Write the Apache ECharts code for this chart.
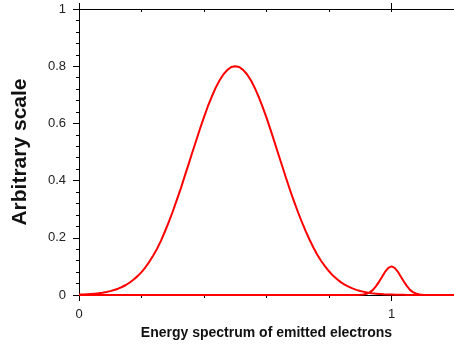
<!DOCTYPE html>
<html>
<head>
<meta charset="utf-8">
<script src="https://cdn.jsdelivr.net/npm/echarts@6/dist/echarts.min.js"></script>
<style>
html,body{margin:0;padding:0;background:#fff;}
#c{width:454px;height:345px;}
</style>
</head>
<body>
<div id="c"></div>
<script>
// Main peak: x positions and values
var mainX = [0,0.0125,0.025,0.0375,0.05,0.0625,0.075,0.0875,0.1,0.1125,0.125,0.1375,0.15,0.1625,0.175,0.1875,0.2,0.2125,0.225,0.2375,0.25,0.2625,0.275,0.2875,0.3,0.3125,0.325,0.3375,0.35,0.3625,0.375,0.3875,0.4,0.4125,0.425,0.4375,0.45,0.4625,0.475,0.4875,0.5,0.5125,0.525,0.5375,0.55,0.5625,0.575,0.5875,0.6,0.6125,0.625,0.6375,0.65,0.6625,0.675,0.6875,0.7,0.7125,0.725,0.7375,0.75,0.7625,0.775,0.7875,0.8,0.8125,0.825,0.8375,0.85,0.8625,0.875,0.8875,0.9,0.9125,0.925,0.9375,0.95,0.9625,0.975,0.9875,1.0,1.0125,1.025,1.0375,1.05,1.0625,1.075,1.0875,1.1,1.1125,1.125,1.1375,1.15,1.1625,1.175,1.1875,1.2];
var mainY = [0.0014,0.0019,0.0025,0.0034,0.0046,0.0061,0.008,0.0104,0.0135,0.0174,0.022,0.028,0.035,0.0438,0.054,0.066,0.080,0.097,0.116,0.138,0.162,0.190,0.222,0.256,0.292,0.331,0.370,0.413,0.455,0.498,0.540,0.582,0.622,0.660,0.694,0.725,0.751,0.772,0.787,0.797,0.800,0.797,0.787,0.772,0.751,0.724,0.693,0.658,0.620,0.579,0.537,0.494,0.452,0.409,0.368,0.329,0.292,0.257,0.224,0.194,0.166,0.141,0.119,0.100,0.083,0.068,0.056,0.045,0.036,0.029,0.023,0.018,0.014,0.011,0.008,0.006,0.0046,0.0035,0.0025,0.0019,0.0014,0.001,0.0007,0.0005,0.0004,0.0003,0.0002,0.0001,0.0001,0,0,0,0,0,0,0,0];
// Small peak near 1
var smallX = [0,0.88,0.89,0.90,0.91,0.92,0.93,0.94,0.95,0.96,0.97,0.98,0.99,1.00,1.01,1.02,1.03,1.04,1.05,1.06,1.07,1.08,1.09,1.10,1.11,1.12,1.2];
var smallY = [0,0,0.0003,0.0008,0.0019,0.0044,0.009,0.017,0.030,0.046,0.064,0.082,0.095,0.100,0.095,0.082,0.064,0.046,0.030,0.017,0.009,0.0044,0.0019,0.0008,0.0003,0,0];
var yTicks = ['0','0.2','0.4','0.6','0.8','1'];
var xLabels = ['0','1'];
var yTitle = 'Arbitrary scale';
var xTitle = 'Energy spectrum of emitted electrons';

function pairs(xs, ys){ var out=[]; for(var i=0;i<xs.length;i++){ out.push([xs[i], ys[i]]); } return out; }

var font = '"Liberation Sans", Arial, sans-serif';
var chart = echarts.init(document.getElementById('c'), null, {renderer:'canvas'});
chart.setOption({
  animation:false,
  backgroundColor:'#fff',
  grid:{left:79, top:9, right:-3, bottom:50, containLabel:false},
  xAxis:[
    {type:'value', position:'bottom', min:0, max:1.2, interval:0.2,
     axisLine:{show:true, onZero:false, lineStyle:{color:'#000', width:1}},
     axisTick:{show:true, length:3, lineStyle:{color:'#000'}},
     splitLine:{show:false},
     axisLabel:{show:true, showMaxLabel:false, margin:13, color:'#222', fontFamily:font, fontSize:13,
       formatter:function(v){ for(var i=0;i<xLabels.length;i++){ if(Math.abs(v-parseFloat(xLabels[i]))<1e-6) return xLabels[i]; } return ''; }},
     name:xTitle, nameLocation:'middle', nameGap:31,
     nameTextStyle:{fontFamily:font, fontSize:14, fontWeight:'bold', color:'#111'}},
    {type:'value', position:'bottom', min:0, max:1.2, interval:1,
     axisLine:{show:false, onZero:false}, axisTick:{show:true, length:6, lineStyle:{color:'#000'}},
     axisLabel:{show:false}, splitLine:{show:false}},
    {type:'value', position:'top', min:0, max:1.2, interval:0.2,
     axisLine:{show:true, onZero:false, lineStyle:{color:'#000', width:1}},
     axisTick:{show:true, inside:true, length:3, lineStyle:{color:'#000'}},
     axisLabel:{show:false}, splitLine:{show:false}},
    {type:'value', position:'top', min:0, max:1.2, interval:1,
     axisLine:{show:false, onZero:false}, axisTick:{show:true, length:6, lineStyle:{color:'#000'}},
     axisLabel:{show:false}, splitLine:{show:false}}
  ],
  yAxis:[
    {type:'value', position:'left', min:0, max:1, interval:0.2,
     axisLine:{show:true, onZero:false, lineStyle:{color:'#000', width:1}},
     axisTick:{show:true, length:6, lineStyle:{color:'#000'}},
     minorTick:{show:true, splitNumber:5, length:3, lineStyle:{color:'#000'}},
     splitLine:{show:false},
     axisLabel:{margin:13, color:'#222', fontFamily:font, fontSize:13,
       formatter:function(v){ var i=Math.round(v/0.2); return yTicks[i]!==undefined ? yTicks[i] : ''; }},
     name:yTitle, nameLocation:'middle', nameGap:48,
     nameTextStyle:{fontFamily:font, fontSize:21, fontWeight:'bold', color:'#111'}}
  ],
  series:[
    {type:'line', xAxisIndex:0, yAxisIndex:0, data:pairs(mainX, mainY), smooth:false, showSymbol:false,
     lineStyle:{color:'#ff0000', width:2, join:'round'}, itemStyle:{color:'#ff0000'}, z:5},
    {type:'line', xAxisIndex:0, yAxisIndex:0, data:pairs(smallX, smallY), smooth:false, showSymbol:false,
     lineStyle:{color:'#ff0000', width:2, join:'round'}, itemStyle:{color:'#ff0000'}, z:5}
  ]
});
</script>
</body>
</html>
